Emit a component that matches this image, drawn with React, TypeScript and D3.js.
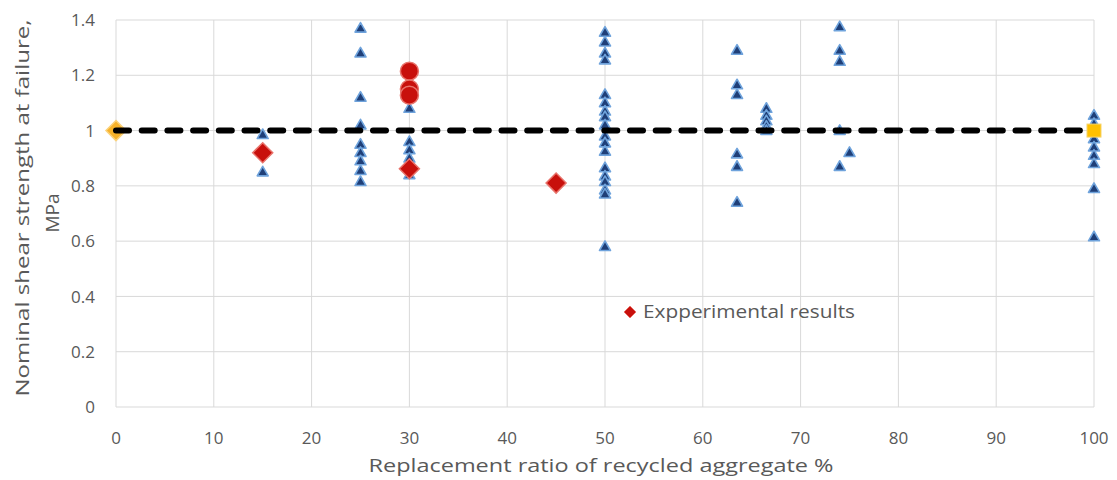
import React from "react";
import * as d3 from "d3";

// ---- data ----
const xTicks = [0, 10, 20, 30, 40, 50, 60, 70, 80, 90, 100];
const yTicks = [0, 0.2, 0.4, 0.6, 0.8, 1, 1.2, 1.4];
const yTickLabels = ["0", "0.2", "0.4", "0.6", "0.8", "1", "1.2", "1.4"];

// Blue triangles: literature data (ratio -> list of strengths)
const triRatios = [15, 25, 30, 50, 63.5, 66.5, 74, 75, 100];
const triValues = [
  [0.985, 0.85],
  [1.37, 1.28, 1.12, 1.02, 0.95, 0.92, 0.89, 0.855, 0.815],
  [1.08, 0.96, 0.93, 0.9, 0.84],
  [1.355, 1.32, 1.28, 1.255, 1.13, 1.1, 1.07, 1.05, 1.02, 0.98, 0.955, 0.925, 0.865, 0.835, 0.815, 0.785, 0.77, 0.58],
  [1.29, 1.165, 1.13, 0.915, 0.87, 0.74],
  [1.08, 1.055, 1.035, 1.015, 1.0],
  [1.375, 1.29, 1.25, 1.0, 0.87],
  [0.92],
  [1.055, 1.025, 0.97, 0.94, 0.91, 0.88, 0.79, 0.615],
];

// Red: experimental results
const expDiamondX = [15, 30, 45];
const expDiamondY = [0.92, 0.862, 0.81];
const expCircleX = [30, 30, 30];
const expCircleY = [1.215, 1.15, 1.128];

// Yellow references
const refDiamond = [0, 1.0];
const refSquare = [100, 1.0];

// Dashed reference line
const refLineX = [0, 100];
const refLineY = [1, 1];

const legendLabel = "Expperimental results";
const xTitle = "Replacement ratio of recycled aggregate %";
const yTitle1 = "Nominal shear strength at failure,";
const yTitle2 = "MPa";

const W = 1117;
const H = 480;
const FONT = "'Open Sans', 'DejaVu Sans', sans-serif";
const TXT = "#595959";
const GRID = "#d9d9d9";

export default function App() {
  const x = d3.scaleLinear().domain([0, 100]).range([116, 1094]);
  const y = d3.scaleLinear().domain([0, 1.4]).range([407, 20]);

  const tri = (cx: number, cy: number, s = 11) => {
    const h = s * 0.87;
    return `M${cx},${cy - h * 0.6} L${cx + s / 2},${cy + h * 0.4} L${cx - s / 2},${cy + h * 0.4} Z`;
  };
  const dia = (cx: number, cy: number, r: number) =>
    `M${cx},${cy - r} L${cx + r},${cy} L${cx},${cy + r} L${cx - r},${cy} Z`;

  const line = d3
    .line<number>()
    .x((_, i) => x(refLineX[i]))
    .y((d) => y(d));

  const triPoints: [number, number][] = [];
  triRatios.forEach((r, i) => triValues[i].forEach((v) => triPoints.push([r, v])));

  return (
    <svg
      width={W}
      height={H}
      style={{ position: "absolute", left: 0, top: 0, background: "#fff" }}
      fontFamily={FONT}
    >
      {/* gridlines */}
      {yTicks.map((t) => (
        <line key={"hy" + t} x1={x(0)} x2={x(100)} y1={y(t)} y2={y(t)} stroke={GRID} strokeWidth={1} />
      ))}
      {xTicks.map((t) => (
        <line key={"vx" + t} x1={x(t)} x2={x(t)} y1={y(0)} y2={y(1.4)} stroke={GRID} strokeWidth={1} />
      ))}

      {/* y tick labels */}
      {yTicks.map((t, i) => (
        <text key={"yl" + t} x={95} y={y(t)} dy="0.36em" textAnchor="end" fontSize={17} fill={TXT}>
          {yTickLabels[i]}
        </text>
      ))}
      {/* x tick labels */}
      {xTicks.map((t) => (
        <text key={"xl" + t} x={x(t)} y={438} dy="0.36em" textAnchor="middle" fontSize={17} fill={TXT}>
          {t}
        </text>
      ))}

      {/* axis titles */}
      <text x={601} y={465} dy="0.36em" textAnchor="middle" fontSize={19} fill={TXT} textLength={465} lengthAdjust="spacingAndGlyphs">
        {xTitle}
      </text>
      <text transform="translate(22,208) rotate(-90)" dy="0.36em" textAnchor="middle" fontSize={19} fill={TXT} textLength={377} lengthAdjust="spacingAndGlyphs">
        {yTitle1}
      </text>
      <text transform="translate(52,213) rotate(-90)" dy="0.36em" textAnchor="middle" fontSize={19} fill={TXT}>
        {yTitle2}
      </text>

      {/* yellow diamond at 0 */}
      <path d={dia(x(refDiamond[0]), y(refDiamond[1]), 10)} fill="#f7b22a" stroke="#fbd27a" strokeWidth={1.5} />

      {/* blue triangles */}
      {triPoints.map(([r, v], i) => (
        <path key={"t" + i} d={tri(x(r), y(v))} fill="#1f3f78" stroke="#6fa3dc" strokeWidth={1.6} strokeLinejoin="round" />
      ))}

      {/* dashed reference line */}
      <path
        d={line(refLineY) || ""}
        fill="none"
        stroke="#000"
        strokeWidth={6}
        strokeDasharray="13 12.7"
        strokeLinecap="round"
      />

      {/* experimental results */}
      {expCircleX.map((r, i) => (
        <circle key={"c" + i} cx={x(r)} cy={y(expCircleY[i])} r={9} fill="#c8100c" stroke="#e8736b" strokeWidth={1.5} />
      ))}
      {expDiamondX.map((r, i) => (
        <path key={"d" + i} d={dia(x(r), y(expDiamondY[i]), 10)} fill="#c8100c" stroke="#e8736b" strokeWidth={1.5} />
      ))}

      {/* yellow square at 100 */}
      <rect
        x={x(refSquare[0]) - 7}
        y={y(refSquare[1]) - 6.5}
        width={14}
        height={13}
        fill="#ffc000"
        stroke="#f5d36b"
        strokeWidth={1}
      />

      {/* legend */}
      <path d={dia(630, 312, 6)} fill="#c8100c" stroke="#e8736b" strokeWidth={1} />
      <text x={643} y={312} dy="0.36em" fontSize={18} fill={TXT} textLength={212} lengthAdjust="spacingAndGlyphs">
        {legendLabel}
      </text>
    </svg>
  );
}
